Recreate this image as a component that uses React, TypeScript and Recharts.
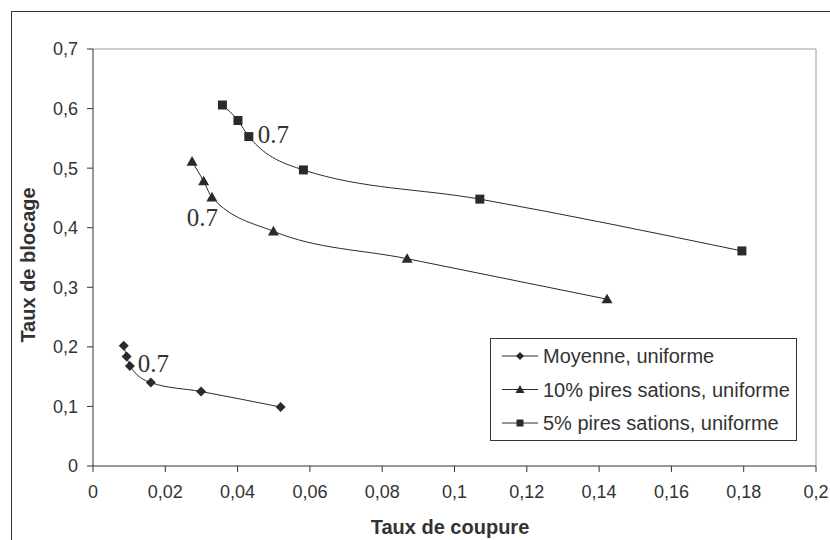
import React from 'react';
import { ScatterChart, Scatter, XAxis, YAxis, ReferenceLine, Customized } from 'recharts';

const xTicks = [0, 0.02, 0.04, 0.06, 0.08, 0.1, 0.12, 0.14, 0.16, 0.18, 0.2];
const yTicks = [0, 0.1, 0.2, 0.3, 0.4, 0.5, 0.6, 0.7];

const moyenneX = [0.0085, 0.0093, 0.0102, 0.016, 0.0299, 0.0519];
const moyenneY = [0.202, 0.184, 0.168, 0.14, 0.125, 0.099];
const pires10X = [0.0274, 0.0306, 0.0329, 0.0499, 0.0869, 0.1422];
const pires10Y = [0.511, 0.478, 0.451, 0.394, 0.348, 0.28];
const pires5X = [0.0358, 0.0401, 0.0431, 0.0582, 0.107, 0.1795];
const pires5Y = [0.606, 0.58, 0.553, 0.497, 0.448, 0.361];

const seriesNames = ['Moyenne, uniforme', '10% pires sations, uniforme', '5% pires sations, uniforme'];
const pointLabel = '0.7';
const labelIndex = 2;

const toPts = (xs: number[], ys: number[]) => xs.map((x, i) => ({ x, y: ys[i] }));
const dataMoy = toPts(moyenneX, moyenneY);
const data10 = toPts(pires10X, pires10Y);
const data5 = toPts(pires5X, pires5Y);

const fmt = (v: number) => String(v).replace('.', ',');
const INK = '#2a2a2a';
const SANS = '"Liberation Sans", Arial, sans-serif';
const SERIF = '"Liberation Serif", "Times New Roman", serif';

const diamondPath = (cx: number, cy: number, r: number) =>
  `M${cx},${cy - r}L${cx + r},${cy}L${cx},${cy + r}L${cx - r},${cy}Z`;
const trianglePath = (cx: number, cy: number, r: number) =>
  `M${cx},${cy - r}L${cx + r},${cy + r * 0.75}L${cx - r},${cy + r * 0.75}Z`;
const squarePath = (cx: number, cy: number, r: number) =>
  `M${cx - r},${cy - r}L${cx + r},${cy - r}L${cx + r},${cy + r}L${cx - r},${cy + r}Z`;

const labelText = (x: number, y: number, anchor: 'start' | 'end') => (
  <text x={x} y={y} textAnchor={anchor} fontFamily={SERIF} fontSize={25} fill="#333">
    {pointLabel}
  </text>
);

const DiamondShape = (p: any) => {
  const isLab = p.payload && p.payload.x === dataMoy[labelIndex].x;
  return (
    <g>
      <path d={diamondPath(p.cx, p.cy, 5)} fill={INK} />
      {isLab && labelText(p.cx + 8, p.cy + 6, 'start')}
    </g>
  );
};
const TriangleShape = (p: any) => {
  const isLab = p.payload && p.payload.x === data10[labelIndex].x;
  return (
    <g>
      <path d={trianglePath(p.cx, p.cy, 5.5)} fill={INK} />
      {isLab && labelText(p.cx + 6, p.cy + 29, 'end')}
    </g>
  );
};
const SquareShape = (p: any) => {
  const isLab = p.payload && p.payload.x === data5[labelIndex].x;
  return (
    <g>
      <path d={squarePath(p.cx, p.cy, 4.5)} fill={INK} />
      {isLab && labelText(p.cx + 9, p.cy + 6, 'start')}
    </g>
  );
};

const Overlay = () => {
  const rowY = [356, 389.5, 423];
  const icons = [
    (cx: number, cy: number) => diamondPath(cx, cy, 4),
    (cx: number, cy: number) => trianglePath(cx, cy, 4.5),
    (cx: number, cy: number) => squarePath(cx, cy, 3.5),
  ];
  return (
    <g>
      <rect x={11.5} y={11.5} width={840} height={560} fill="none" stroke="#333" strokeWidth={1} />
      <text x={28} y={265} transform="rotate(-90 28 265)" textAnchor="middle" dominantBaseline="central"
        fontFamily={SANS} fontWeight="bold" fontSize={20} fill="#333">Taux de blocage</text>
      <text x={450} y={527} textAnchor="middle" dominantBaseline="central"
        fontFamily={SANS} fontWeight="bold" fontSize={20} fill="#333">Taux de coupure</text>
      <rect x={490.5} y={338.5} width={306} height={102} fill="#fff" stroke="#333" strokeWidth={1} />
      {seriesNames.map((name, i) => (
        <g key={name}>
          <line x1={502} x2={538} y1={rowY[i]} y2={rowY[i]} stroke={INK} strokeWidth={1} />
          <path d={icons[i](520, rowY[i])} fill={INK} />
          <text x={543} y={rowY[i]} dominantBaseline="central" fontFamily={SANS} fontSize={20} fill="#333">
            {name}
          </text>
        </g>
      ))}
    </g>
  );
};

export default function App() {
  const lineStyle = { stroke: INK, strokeWidth: 1 };
  return (
    <div style={{ position: 'absolute', left: 0, top: 0, width: 830, height: 540, overflow: 'hidden', background: '#fff' }}>
      <ScatterChart width={830} height={540} margin={{ top: 49, right: 14, bottom: 44, left: 0 }}>
        <XAxis type="number" dataKey="x" domain={[0, 0.2]} ticks={xTicks} tickFormatter={fmt}
          height={30} tickSize={6} tickMargin={13} allowDecimals
          axisLine={{ stroke: '#333' }} tickLine={{ stroke: '#333' }}
          tick={{ fill: '#333', fontSize: 18, fontFamily: SANS }} />
        <YAxis type="number" dataKey="y" domain={[0, 0.7]} ticks={yTicks} tickFormatter={fmt}
          width={93} tickSize={6} tickMargin={9}
          axisLine={{ stroke: '#333' }} tickLine={{ stroke: '#333' }}
          tick={{ fill: '#333', fontSize: 18, fontFamily: SANS }} />
        <ReferenceLine y={0.7} stroke="#a59c9c" strokeWidth={1} />
        <ReferenceLine x={0.2} stroke="#a59c9c" strokeWidth={1} />
        <Scatter name={seriesNames[0]} data={dataMoy} line={lineStyle} lineJointType="monotoneX"
          shape={DiamondShape} isAnimationActive={false} />
        <Scatter name={seriesNames[1]} data={data10} line={lineStyle} lineJointType="monotoneX"
          shape={TriangleShape} isAnimationActive={false} />
        <Scatter name={seriesNames[2]} data={data5} line={lineStyle} lineJointType="monotoneX"
          shape={SquareShape} isAnimationActive={false} />
        <Customized component={Overlay} />
      </ScatterChart>
    </div>
  );
}
